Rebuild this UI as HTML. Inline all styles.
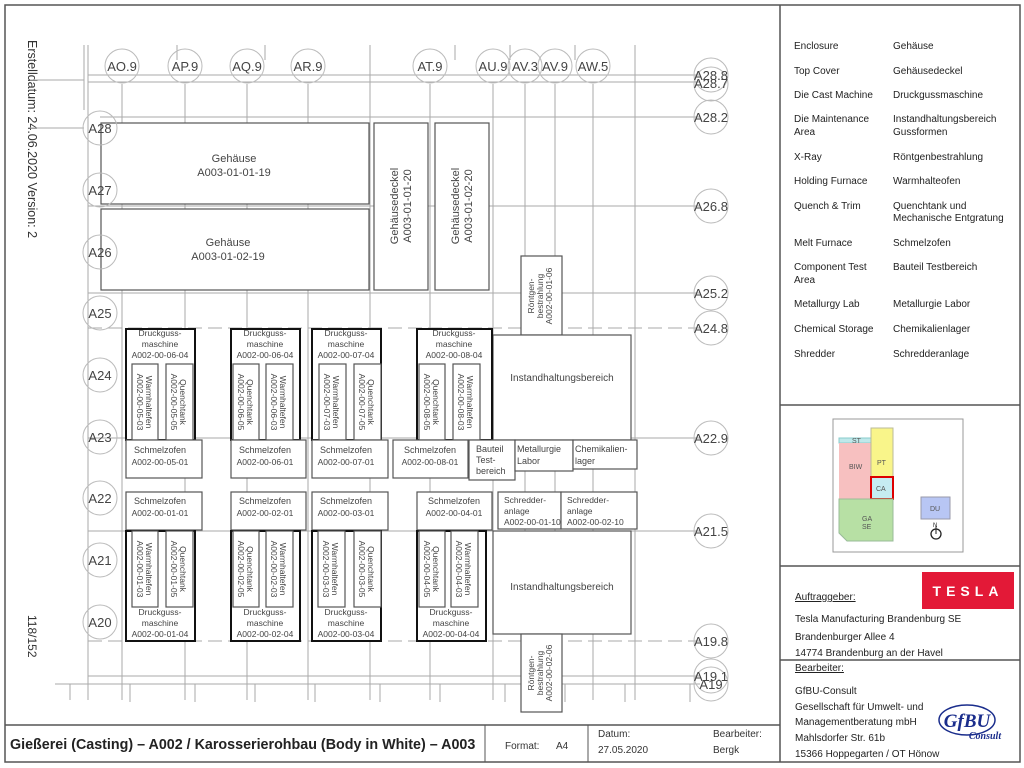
<!DOCTYPE html>
<html><head><meta charset="utf-8"><style>
body{margin:0;background:#fff}
svg{display:block;font-family:"Liberation Sans",sans-serif}
.g{stroke:#aaa;stroke-width:1;fill:none}
.c{stroke:#bbb;fill:none;stroke-width:1}
.gl{font-size:13px;fill:#444;text-anchor:middle}
.b{fill:#fff;stroke:#555;stroke-width:1.2}
.bt{fill:#fff;stroke:#111;stroke-width:2}
.t{font-size:10px;fill:#444;text-anchor:middle}
.ts{font-size:8.5px;fill:#444;text-anchor:middle}
.lg{font-size:10px;fill:#222}
</style></head><body>
<svg width="1024" height="768" viewBox="0 0 1024 768">
<rect x="5" y="5" width="1015" height="757" fill="none" stroke="#555" stroke-width="1.5"/>
<line x1="780" y1="5" x2="780" y2="762" stroke="#555" stroke-width="1.5"/>
<line x1="5" y1="725" x2="780" y2="725" stroke="#555" stroke-width="1.5"/>
<line x1="485" y1="725" x2="485" y2="762" stroke="#555"/>
<line x1="588" y1="725" x2="588" y2="762" stroke="#555"/>
<line x1="780" y1="405" x2="1020" y2="405" stroke="#555" stroke-width="1.5"/>
<line x1="780" y1="566" x2="1020" y2="566" stroke="#555" stroke-width="1.5"/>
<line x1="780" y1="660" x2="1020" y2="660" stroke="#555" stroke-width="1.5"/>

<text transform="translate(28,40) rotate(90)" font-size="12.5" fill="#333">Erstelldatum:  24.06.2020 Version:  2</text>
<text transform="translate(28,615) rotate(90)" font-size="12" fill="#333">118/152</text>

<g class="g">
<line x1="88" y1="45" x2="88" y2="700"/><line x1="84" y1="45" x2="84" y2="110"/>
<line x1="122" y1="84" x2="122" y2="700"/><line x1="185" y1="84" x2="185" y2="700"/>
<line x1="247" y1="84" x2="247" y2="700"/><line x1="308" y1="84" x2="308" y2="700"/>
<line x1="370" y1="45" x2="370" y2="700"/><line x1="430" y1="84" x2="430" y2="700"/>
<line x1="493" y1="84" x2="493" y2="700"/><line x1="525" y1="84" x2="525" y2="700"/>
<line x1="555" y1="84" x2="555" y2="700"/><line x1="593" y1="84" x2="593" y2="700"/>
<line x1="635" y1="45" x2="635" y2="700"/>
<line x1="177" y1="45" x2="177" y2="60"/><line x1="265" y1="45" x2="265" y2="60"/><line x1="455" y1="45" x2="455" y2="60"/><line x1="510" y1="45" x2="510" y2="60"/><line x1="575" y1="45" x2="575" y2="60"/>
<line x1="88" y1="75" x2="700" y2="75"/><line x1="88" y1="82" x2="700" y2="82"/>
<line x1="100" y1="117" x2="700" y2="117"/><line x1="88" y1="206" x2="700" y2="206"/>
<line x1="88" y1="293" x2="700" y2="293"/><line x1="88" y1="328" x2="700" y2="328" stroke-dasharray="14,6"/>
<line x1="88" y1="438" x2="700" y2="438"/><line x1="88" y1="531" x2="700" y2="531"/>
<line x1="88" y1="641" x2="700" y2="641" stroke-dasharray="14,6"/><line x1="88" y1="676" x2="700" y2="676"/>
<line x1="55" y1="684" x2="700" y2="684"/>
<line x1="30" y1="128" x2="84" y2="128"/><line x1="30" y1="80" x2="84" y2="80"/>
<line x1="70" y1="684" x2="70" y2="700"/><line x1="130" y1="684" x2="130" y2="702"/><line x1="195" y1="684" x2="195" y2="702"/><line x1="255" y1="684" x2="255" y2="702"/><line x1="315" y1="684" x2="315" y2="702"/><line x1="380" y1="684" x2="380" y2="702"/><line x1="440" y1="684" x2="440" y2="702"/><line x1="505" y1="684" x2="505" y2="702"/><line x1="565" y1="684" x2="565" y2="702"/><line x1="625" y1="684" x2="625" y2="702"/><line x1="690" y1="684" x2="690" y2="702"/>
</g>

<!-- BIW -->
<rect class="b" x="101" y="123" width="268" height="81"/>
<text class="t" x="234" y="162" style="font-size:11px">Gehäuse</text><text class="t" x="234" y="176" style="font-size:11px">A003-01-01-19</text>
<rect class="b" x="101" y="209" width="268" height="81"/>
<text class="t" x="228" y="246" style="font-size:11px">Gehäuse</text><text class="t" x="228" y="260" style="font-size:11px">A003-01-02-19</text>
<rect class="b" x="374" y="123" width="54" height="167"/>
<text class="t" style="font-size:11px" transform="translate(401,206) rotate(-90)"><tspan x="0" y="-3">Gehäusedeckel</tspan><tspan x="0" y="10">A003-01-01-20</tspan></text>
<rect class="b" x="435" y="123" width="54" height="167"/>
<text class="t" style="font-size:11px" transform="translate(462,206) rotate(-90)"><tspan x="0" y="-3">Gehäusedeckel</tspan><tspan x="0" y="10">A003-01-02-20</tspan></text>

<rect class="b" x="521" y="256" width="41" height="79"/>
<text class="ts" transform="translate(541,296) rotate(-90)"><tspan x="0" y="-7">Röntgen-</tspan><tspan x="0" y="2">bestrahlung</tspan><tspan x="0" y="11">A002-00-01-06</tspan></text>
<rect class="b" x="493" y="335" width="138" height="105"/>
<text class="t" x="562" y="381">Instandhaltungsbereich</text>
<rect class="b" x="493" y="531" width="138" height="103"/>
<text class="t" x="562" y="590">Instandhaltungsbereich</text>
<rect class="b" x="521" y="634" width="41" height="78"/>
<text class="ts" transform="translate(541,673) rotate(-90)"><tspan x="0" y="-7">Röntgen-</tspan><tspan x="0" y="2">bestrahlung</tspan><tspan x="0" y="11">A002-00-02-06</tspan></text>

<g>
<rect class="bt" x="126" y="329" width="69" height="111"/>
<text class="ts" x="160" y="336">Druckguss-</text><text class="ts" x="160" y="347">maschine</text><text class="ts" x="160" y="358">A002-00-06-04</text>
<rect class="b" x="132" y="364" width="26" height="76"/><text class="ts" transform="translate(145,402) rotate(90)"><tspan x="0" y="-1">Warmhaltefen</tspan><tspan x="0" y="8">A002-00-05-03</tspan></text>
<rect class="b" x="166" y="364" width="27" height="76"/><text class="ts" transform="translate(179,402) rotate(90)"><tspan x="0" y="-1">Quenchtank</tspan><tspan x="0" y="8">A002-00-05-05</tspan></text>
<rect class="b" x="126" y="440" width="76" height="38"/><text class="ts" x="160" y="453" style="font-size:9px">Schmelzofen</text><text class="ts" x="160" y="465">A002-00-05-01</text>

<rect class="bt" x="231" y="329" width="69" height="111"/>
<text class="ts" x="265" y="336">Druckguss-</text><text class="ts" x="265" y="347">maschine</text><text class="ts" x="265" y="358">A002-00-06-04</text>
<rect class="b" x="233" y="364" width="26" height="76"/><text class="ts" transform="translate(246,402) rotate(90)"><tspan x="0" y="-1">Quenchtank</tspan><tspan x="0" y="8">A002-00-06-05</tspan></text>
<rect class="b" x="266" y="364" width="27" height="76"/><text class="ts" transform="translate(279,402) rotate(90)"><tspan x="0" y="-1">Warmhaltefen</tspan><tspan x="0" y="8">A002-00-06-03</tspan></text>
<rect class="b" x="231" y="440" width="75" height="38"/><text class="ts" x="265" y="453" style="font-size:9px">Schmelzofen</text><text class="ts" x="265" y="465">A002-00-06-01</text>

<rect class="bt" x="312" y="329" width="69" height="111"/>
<text class="ts" x="346" y="336">Druckguss-</text><text class="ts" x="346" y="347">maschine</text><text class="ts" x="346" y="358">A002-00-07-04</text>
<rect class="b" x="319" y="364" width="27" height="76"/><text class="ts" transform="translate(332,402) rotate(90)"><tspan x="0" y="-1">Warmhaltefen</tspan><tspan x="0" y="8">A002-00-07-03</tspan></text>
<rect class="b" x="354" y="364" width="27" height="76"/><text class="ts" transform="translate(367,402) rotate(90)"><tspan x="0" y="-1">Quenchtank</tspan><tspan x="0" y="8">A002-00-07-05</tspan></text>
<rect class="b" x="312" y="440" width="76" height="38"/><text class="ts" x="346" y="453" style="font-size:9px">Schmelzofen</text><text class="ts" x="346" y="465">A002-00-07-01</text>

<rect class="bt" x="417" y="329" width="75" height="111"/>
<text class="ts" x="454" y="336">Druckguss-</text><text class="ts" x="454" y="347">maschine</text><text class="ts" x="454" y="358">A002-00-08-04</text>
<rect class="b" x="419" y="364" width="26" height="76"/><text class="ts" transform="translate(432,402) rotate(90)"><tspan x="0" y="-1">Quenchtank</tspan><tspan x="0" y="8">A002-00-08-05</tspan></text>
<rect class="b" x="453" y="364" width="27" height="76"/><text class="ts" transform="translate(466,402) rotate(90)"><tspan x="0" y="-1">Warmhaltefen</tspan><tspan x="0" y="8">A002-00-08-03</tspan></text>
<rect class="b" x="393" y="440" width="75" height="38"/><text class="ts" x="430" y="453" style="font-size:9px">Schmelzofen</text><text class="ts" x="430" y="465">A002-00-08-01</text>
</g>
<rect class="b" x="469" y="440" width="46" height="40"/>
<text class="ts" x="476" y="452" style="text-anchor:start;font-size:9px">Bauteil</text><text class="ts" x="476" y="463" style="text-anchor:start;font-size:9px">Test-</text><text class="ts" x="476" y="474" style="text-anchor:start;font-size:9px">bereich</text>
<rect class="b" x="515" y="440" width="58" height="31"/>
<text class="ts" x="517" y="452" style="text-anchor:start;font-size:9px">Metallurgie</text><text class="ts" x="517" y="464" style="text-anchor:start;font-size:9px">Labor</text>
<rect class="b" x="573" y="440" width="64" height="29"/>
<text class="ts" x="575" y="452" style="text-anchor:start;font-size:9px">Chemikalien-</text><text class="ts" x="575" y="464" style="text-anchor:start;font-size:9px">lager</text>

<g>
<rect class="b" x="126" y="492" width="76" height="38"/><text class="ts" x="160" y="504" style="font-size:9px">Schmelzofen</text><text class="ts" x="160" y="516">A002-00-01-01</text>
<rect class="bt" x="126" y="531" width="69" height="110"/>
<rect class="b" x="132" y="531" width="26" height="76"/><text class="ts" transform="translate(145,569) rotate(90)"><tspan x="0" y="-1">Warmhaltefen</tspan><tspan x="0" y="8">A002-00-01-03</tspan></text>
<rect class="b" x="166" y="531" width="27" height="76"/><text class="ts" transform="translate(179,569) rotate(90)"><tspan x="0" y="-1">Quenchtank</tspan><tspan x="0" y="8">A002-00-01-05</tspan></text>
<text class="ts" x="160" y="615">Druckguss-</text><text class="ts" x="160" y="626">maschine</text><text class="ts" x="160" y="637">A002-00-01-04</text>

<rect class="b" x="231" y="492" width="75" height="38"/><text class="ts" x="265" y="504" style="font-size:9px">Schmelzofen</text><text class="ts" x="265" y="516">A002-00-02-01</text>
<rect class="bt" x="231" y="531" width="69" height="110"/>
<rect class="b" x="233" y="531" width="26" height="76"/><text class="ts" transform="translate(246,569) rotate(90)"><tspan x="0" y="-1">Quenchtank</tspan><tspan x="0" y="8">A002-00-02-05</tspan></text>
<rect class="b" x="266" y="531" width="27" height="76"/><text class="ts" transform="translate(279,569) rotate(90)"><tspan x="0" y="-1">Warmhaltefen</tspan><tspan x="0" y="8">A002-00-02-03</tspan></text>
<text class="ts" x="265" y="615">Druckguss-</text><text class="ts" x="265" y="626">maschine</text><text class="ts" x="265" y="637">A002-00-02-04</text>

<rect class="b" x="312" y="492" width="76" height="38"/><text class="ts" x="346" y="504" style="font-size:9px">Schmelzofen</text><text class="ts" x="346" y="516">A002-00-03-01</text>
<rect class="bt" x="312" y="531" width="69" height="110"/>
<rect class="b" x="318" y="531" width="27" height="76"/><text class="ts" transform="translate(331,569) rotate(90)"><tspan x="0" y="-1">Warmhaltefen</tspan><tspan x="0" y="8">A002-00-03-03</tspan></text>
<rect class="b" x="354" y="531" width="27" height="76"/><text class="ts" transform="translate(367,569) rotate(90)"><tspan x="0" y="-1">Quenchtank</tspan><tspan x="0" y="8">A002-00-03-05</tspan></text>
<text class="ts" x="346" y="615">Druckguss-</text><text class="ts" x="346" y="626">maschine</text><text class="ts" x="346" y="637">A002-00-03-04</text>

<rect class="b" x="417" y="492" width="75" height="38"/><text class="ts" x="454" y="504" style="font-size:9px">Schmelzofen</text><text class="ts" x="454" y="516">A002-00-04-01</text>
<rect class="bt" x="417" y="531" width="69" height="110"/>
<rect class="b" x="419" y="531" width="26" height="76"/><text class="ts" transform="translate(432,569) rotate(90)"><tspan x="0" y="-1">Quenchtank</tspan><tspan x="0" y="8">A002-00-04-05</tspan></text>
<rect class="b" x="451" y="531" width="27" height="76"/><text class="ts" transform="translate(464,569) rotate(90)"><tspan x="0" y="-1">Warmhaltefen</tspan><tspan x="0" y="8">A002-00-04-03</tspan></text>
<text class="ts" x="451" y="615">Druckguss-</text><text class="ts" x="451" y="626">maschine</text><text class="ts" x="451" y="637">A002-00-04-04</text>
</g>
<rect class="b" x="498" y="492" width="63" height="37"/>
<text class="ts" x="504" y="503" style="text-anchor:start">Schredder-</text><text class="ts" x="504" y="514" style="text-anchor:start">anlage</text><text class="ts" x="504" y="525" style="text-anchor:start">A002-00-01-10</text>
<rect class="b" x="561" y="492" width="76" height="37"/>
<text class="ts" x="567" y="503" style="text-anchor:start">Schredder-</text><text class="ts" x="567" y="514" style="text-anchor:start">anlage</text><text class="ts" x="567" y="525" style="text-anchor:start">A002-00-02-10</text>

<!-- grid circles & labels on top -->
<g class="c">
<circle cx="122" cy="66" r="17"/><circle cx="185" cy="66" r="17"/><circle cx="247" cy="66" r="17"/><circle cx="308" cy="66" r="17"/><circle cx="430" cy="66" r="17"/><circle cx="493" cy="66" r="17"/><circle cx="525" cy="66" r="17"/><circle cx="555" cy="66" r="17"/><circle cx="593" cy="66" r="17"/>
<circle cx="100" cy="128" r="17"/><circle cx="100" cy="190" r="17"/><circle cx="100" cy="252" r="17"/><circle cx="100" cy="313" r="17"/><circle cx="100" cy="375" r="17"/><circle cx="100" cy="437" r="17"/><circle cx="100" cy="498" r="17"/><circle cx="100" cy="560" r="17"/><circle cx="100" cy="622" r="17"/>
<circle cx="711" cy="75" r="17"/><circle cx="711" cy="84" r="17"/><circle cx="711" cy="117" r="17"/><circle cx="711" cy="206" r="17"/><circle cx="711" cy="293" r="17"/><circle cx="711" cy="328" r="17"/><circle cx="711" cy="438" r="17"/><circle cx="711" cy="531" r="17"/><circle cx="711" cy="641" r="17"/><circle cx="711" cy="676" r="17"/><circle cx="711" cy="684" r="17"/>
</g>
<g class="gl">
<text x="122" y="71">AO.9</text><text x="185" y="71">AP.9</text><text x="247" y="71">AQ.9</text><text x="308" y="71">AR.9</text><text x="430" y="71">AT.9</text><text x="493" y="71">AU.9</text><text x="525" y="71">AV.3</text><text x="555" y="71">AV.9</text><text x="593" y="71">AW.5</text>
<text x="100" y="133">A28</text><text x="100" y="195">A27</text><text x="100" y="257">A26</text><text x="100" y="318">A25</text><text x="100" y="380">A24</text><text x="100" y="442">A23</text><text x="100" y="503">A22</text><text x="100" y="565">A21</text><text x="100" y="627">A20</text>
<text x="711" y="80">A28.8</text><text x="711" y="88">A28.7</text><text x="711" y="122">A28.2</text><text x="711" y="211">A26.8</text><text x="711" y="298">A25.2</text><text x="711" y="333">A24.8</text><text x="711" y="443">A22.9</text><text x="711" y="536">A21.5</text><text x="711" y="646">A19.8</text><text x="711" y="681">A19.1</text><text x="711" y="689">A19</text>
</g>

<text x="10" y="749" font-size="14.3" font-weight="bold" fill="#222">Gießerei (Casting) – A002  / Karosserierohbau (Body in White) – A003</text>
<text x="505" y="749" font-size="10" fill="#333">Format:</text><text x="556" y="749" font-size="10" fill="#333">A4</text>
<text x="598" y="737" font-size="10" fill="#333">Datum:</text><text x="598" y="753" font-size="10" fill="#333">27.05.2020</text>
<text x="713" y="737" font-size="10" fill="#333">Bearbeiter:</text><text x="713" y="753" font-size="10" fill="#333">Bergk</text>

<g class="lg">
<text x="794" y="49">Enclosure</text><text x="893" y="49">Gehäuse</text>
<text x="794" y="74">Top Cover</text><text x="893" y="74">Gehäusedeckel</text>
<text x="794" y="98">Die Cast Machine</text><text x="893" y="98">Druckgussmaschine</text>
<text x="794" y="122">Die Maintenance</text><text x="794" y="135">Area</text><text x="893" y="122">Instandhaltungsbereich</text><text x="893" y="135">Gussformen</text>
<text x="794" y="160">X-Ray</text><text x="893" y="160">Röntgenbestrahlung</text>
<text x="794" y="184">Holding Furnace</text><text x="893" y="184">Warmhalteofen</text>
<text x="794" y="209">Quench &amp; Trim</text><text x="893" y="209">Quenchtank und</text><text x="893" y="221">Mechanische Entgratung</text>
<text x="794" y="246">Melt Furnace</text><text x="893" y="246">Schmelzofen</text>
<text x="794" y="270">Component Test</text><text x="794" y="283">Area</text><text x="893" y="270">Bauteil Testbereich</text>
<text x="794" y="307">Metallurgy Lab</text><text x="893" y="307">Metallurgie Labor</text>
<text x="794" y="332">Chemical Storage</text><text x="893" y="332">Chemikalienlager</text>
<text x="794" y="357">Shredder</text><text x="893" y="357">Schredderanlage</text>
</g>

<rect x="833" y="419" width="130" height="133" fill="#fff" stroke="#999"/>
<rect x="839" y="438" width="32" height="5" fill="#bfe8ea" stroke="#8cc"/>
<text x="852" y="443" font-size="7" fill="#555">ST</text>
<rect x="839" y="443" width="32" height="56" fill="#f7c0c0"/>
<text x="849" y="469" font-size="7" fill="#555">BIW</text>
<rect x="871" y="428" width="22" height="49" fill="#f9f58a" stroke="#bb9"/>
<text x="877" y="465" font-size="7" fill="#555">PT</text>
<rect x="871" y="477" width="22" height="22" fill="#c6ecf2" stroke="#d00" stroke-width="2"/>
<text x="876" y="491" font-size="7" fill="#555">CA</text>
<path d="M839 499 H893 V541 H847 L839 533 Z" fill="#b7e0a4" stroke="#9b9"/>
<text x="862" y="521" font-size="7" fill="#555">GA</text><text x="862" y="529" font-size="7" fill="#555">SE</text>
<rect x="921" y="497" width="29" height="22" fill="#b8c6f4" stroke="#99a"/>
<text x="930" y="511" font-size="7" fill="#555">DU</text>
<circle cx="936" cy="534" r="5" fill="none" stroke="#222" stroke-width="1.3"/><line x1="936" y1="526" x2="936" y2="534" stroke="#222"/>
<text x="933" y="527" font-size="6" fill="#222">N</text>

<rect x="922" y="572" width="92" height="37" fill="#e31937"/>
<text x="968" y="596" font-size="14" fill="#fff" text-anchor="middle" letter-spacing="5" font-weight="bold">TESLA</text>
<text x="795" y="600" font-size="10" fill="#222" text-decoration="underline">Auftraggeber:</text>
<text x="795" y="622" font-size="10" fill="#222">Tesla Manufacturing Brandenburg SE</text>
<text x="795" y="640" font-size="10" fill="#222">Brandenburger Allee 4</text>
<text x="795" y="656" font-size="10" fill="#222">14774 Brandenburg an der Havel</text>
<text x="795" y="671" font-size="10" fill="#222" text-decoration="underline">Bearbeiter:</text>
<text x="795" y="694" font-size="10" fill="#222">GfBU-Consult</text>
<text x="795" y="710" font-size="10" fill="#222">Gesellschaft für Umwelt- und</text>
<text x="795" y="725" font-size="10" fill="#222">Managementberatung mbH</text>
<text x="795" y="741" font-size="10" fill="#222">Mahlsdorfer Str. 61b</text>
<text x="795" y="757" font-size="10" fill="#222">15366 Hoppegarten / OT Hönow</text>
<ellipse cx="967" cy="720" rx="28" ry="15" fill="none" stroke="#1a2d8c" stroke-width="1.5"/>
<text x="967" y="727" font-size="19" font-weight="bold" font-style="italic" fill="#1a2d8c" text-anchor="middle" font-family="Liberation Serif,serif">GfBU</text>
<text x="985" y="739" font-size="10" font-weight="bold" font-style="italic" fill="#1a2d8c" text-anchor="middle" font-family="Liberation Serif,serif">Consult</text>
</svg>
</body></html>
